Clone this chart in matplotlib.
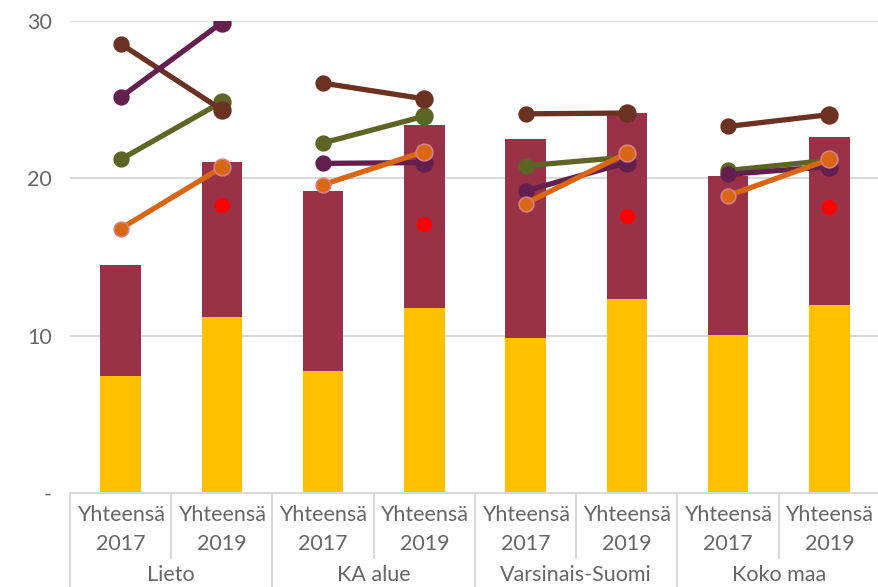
import numpy as np
import matplotlib.pyplot as plt
from matplotlib.lines import Line2D

plt.rcParams['font.family'] = ['Lato', 'DejaVu Sans']

groups = ["Lieto", "KA alue", "Varsinais-Suomi", "Koko maa"]
years = ["2017", "2019"]

# pinotut pylväät (alaosa + yläosa = kokonaiskorkeus)
bar_low = [7.45, 11.2, 7.75, 11.75, 9.85, 12.35, 10.05, 11.95]
bar_total = [14.5, 21.05, 19.2, 23.4, 22.5, 24.15, 20.15, 22.65]

# viivasarjat, arvopari (2017, 2019) kullekin alueelle
brown = [28.55, 24.35, 26.05, 25.05, 24.1, 24.15, 23.3, 24.05]
purple = [25.15, 29.9, 20.95, 21.0, 19.2, 21.0, 20.25, 20.75]
green = [21.2, 24.85, 22.25, 23.95, 20.8, 21.35, 20.5, 21.15]
orange = [16.8, 20.7, 19.6, 21.7, 18.4, 21.6, 18.9, 21.2]
red_2019 = [18.3, 17.1, 17.6, 18.2]

c_yellow = "#FFC000"
c_bar = "#993246"
c_grey = "#666666"
fs = 15.5

fig = plt.figure(figsize=(8.79, 5.87), dpi=100)
ax = fig.add_axes([70 / 879, 94 / 587, 810 / 879, 472 / 587])

x = np.arange(len(bar_low))
top = np.array(bar_total) - np.array(bar_low)
ax.bar(x, bar_low, width=0.4, color=c_yellow, zorder=2)
ax.bar(x, top, bottom=bar_low, width=0.4, color=c_bar, zorder=2)

series = [(green, "#5E6423", None), (brown, "#6B3221", None),
          (purple, "#63204F", None), (orange, "#D86613", "#D98080")]
for vals, col, edge in series:
    for g in range(len(groups)):
        xs = x[2 * g:2 * g + 2]
        ys = vals[2 * g:2 * g + 2]
        ax.plot(xs, ys, color=col, lw=3.8, zorder=3, solid_capstyle="round")
        ec = edge if edge else col
        ax.plot(xs[0], ys[0], "o", ms=10.5, color=col, mec=ec, mew=1.2, zorder=3)
        ax.plot(xs[1], ys[1], "o", ms=12, color=col, mec=ec, mew=1.2, zorder=3)

ax.plot(x[1::2], red_2019, "o", ms=11, color="#FF0000", mec="none", zorder=4, lw=0)

ax.set_xlim(-0.5, 7.5)
ax.set_ylim(0, 30)
ax.set_yticks([0, 10, 20, 30])
ax.set_yticklabels(["-", "10", "20", "30"])
ax.tick_params(axis="y", length=0, pad=13, labelsize=fs, labelcolor=c_grey)
ax.set_xticks([])
for y in [10, 20, 30]:
    ax.axhline(y, color="#D9D9D9", lw=1.5, zorder=1)
for s in ax.spines.values():
    s.set_visible(False)

# kaksitasoinen luokka-akseli
line_kw = dict(color="#D9D9D9", lw=1.5, clip_on=False, transform=ax.transData)
ax.add_line(Line2D([-0.5, 7.5], [0, 0], **line_kw))
trans = ax.get_xaxis_transform()
h_px = 472
tier1 = -65 / h_px
bottom = -94 / h_px
for i in range(len(x) + 1):
    xb = i - 0.5
    y_end = bottom if i % 2 == 0 else tier1
    ax.add_line(Line2D([xb, xb], [0, y_end], color="#D9D9D9", lw=1.5,
                       clip_on=False, transform=trans))
for i in range(len(x)):
    ax.text(i, -22 / h_px, "Yhteensä", transform=trans, ha="center",
            va="center", fontsize=fs, color=c_grey)
    ax.text(i, -51 / h_px, years[i % 2], transform=trans, ha="center",
            va="center", fontsize=fs, color=c_grey)
for g, name in enumerate(groups):
    ax.text(2 * g + 0.5, -82 / h_px, name, transform=trans, ha="center",
            va="center", fontsize=fs, color=c_grey)

fig.savefig("out.png", dpi=100)
